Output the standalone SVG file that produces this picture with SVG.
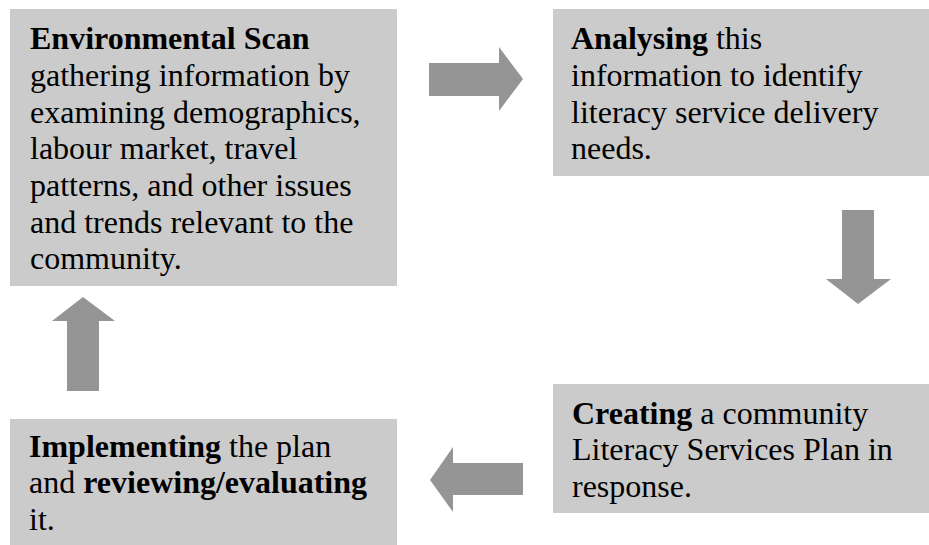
<svg xmlns="http://www.w3.org/2000/svg" width="929" height="545" viewBox="0 0 929 545">
<style>
.box{fill:#cbcbcb}
.arr{fill:#959595}
text{font-family:"Liberation Serif","Times New Roman",serif;font-size:32px;fill:#000}
.b{font-weight:bold}
</style>
<rect width="929" height="545" fill="#fff"/>
<g id="connectors">
<polygon class="arr" points="429,63 499,63 499,47 523,79 499,111 499,96 429,96"/>
<polygon class="arr" points="842,210 874,210 874,279 891,279 858,304 826,279 842,279"/>
<polygon class="arr" points="523,463 453,463 453,447 430,480 453,512 453,495 523,495"/>
<polygon class="arr" points="67,391 67,321 52,321 83,297 115,321 99,321 99,391"/>
</g>
<g id="scan">
<rect class="box" x="10" y="9" width="387" height="277"/>
<text x="30" y="49"><tspan class="b">Environmental Scan</tspan></text>
<text x="30" y="86">gathering information by</text>
<text x="30" y="123">examining demographics,</text>
<text x="30" y="159">labour market, travel</text>
<text x="30" y="196">patterns, and other issues</text>
<text x="30" y="233">and trends relevant to the</text>
<text x="30" y="269">community.</text>
</g>
<g id="analysing">
<rect class="box" x="553" y="9" width="376" height="167"/>
<text x="571" y="49"><tspan class="b">Analysing</tspan> this</text>
<text x="571" y="86">information to identify</text>
<text x="571" y="123">literacy service delivery</text>
<text x="571" y="159">needs.</text>
</g>
<g id="creating">
<rect class="box" x="553" y="384" width="376" height="129"/>
<text x="572" y="424"><tspan class="b">Creating</tspan> a community</text>
<text x="572" y="460">Literacy Services Plan in</text>
<text x="572" y="497">response.</text>
</g>
<g id="implementing">
<rect class="box" x="10" y="419" width="387" height="126"/>
<text x="29" y="457"><tspan class="b">Implementing</tspan> the plan</text>
<text x="29" y="493">and <tspan class="b">reviewing/evaluating</tspan></text>
<text x="29" y="530">it.</text>
</g>
</svg>
